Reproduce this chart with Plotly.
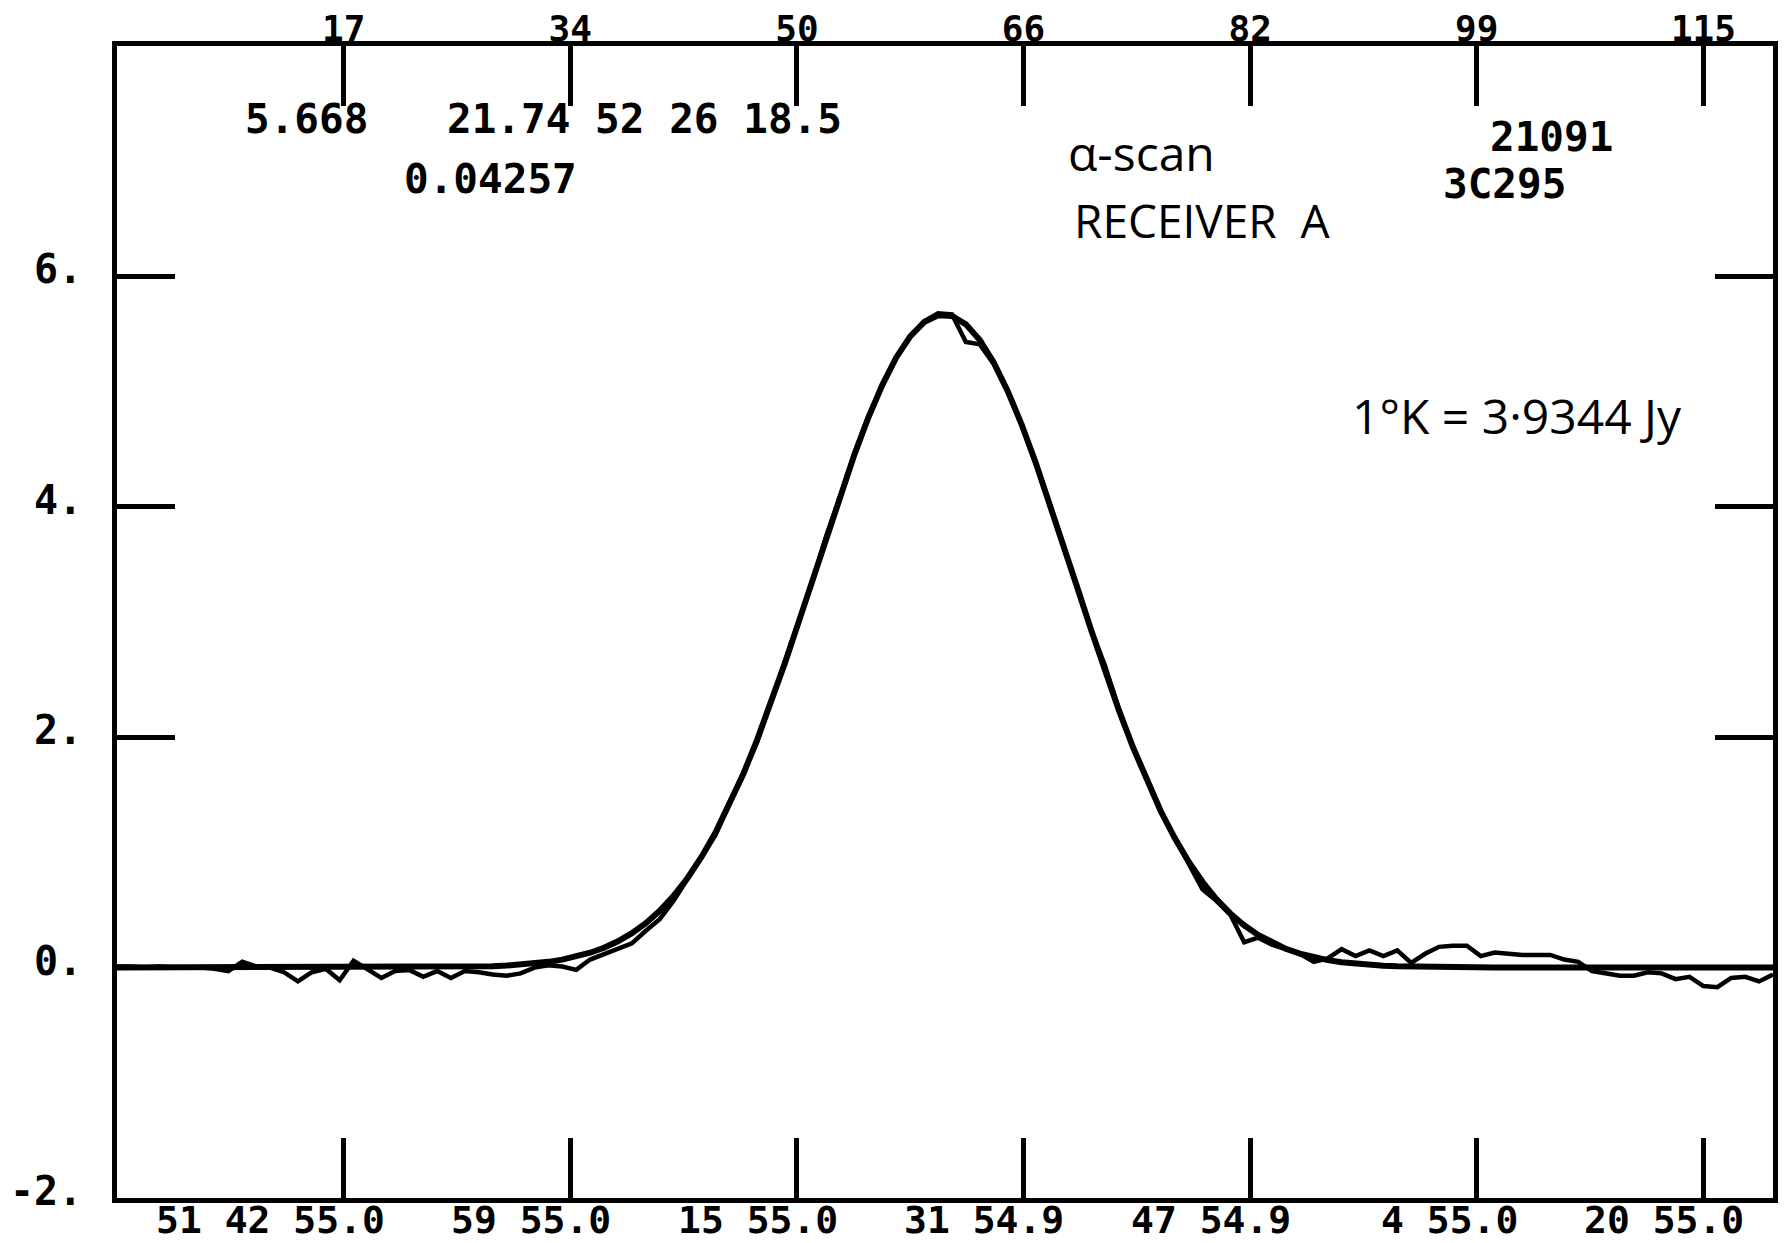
import plotly.graph_objects as go

# ---------------- data ----------------
SAMPLES = list(range(1, 121))

FIT = [0.0] * 22 + [
    0.002, 0.002, 0.004, 0.006, 0.008, 0.012, 0.018, 0.025, 0.036, 0.050,
    0.069, 0.095, 0.129, 0.172, 0.228, 0.299, 0.386, 0.493, 0.623, 0.778,
    0.960, 1.170, 1.410, 1.679, 1.977, 2.300, 2.645, 3.005, 3.375, 3.747,
    4.111, 4.457, 4.777, 5.059, 5.297, 5.480, 5.603, 5.663, 5.656, 5.584,
    5.448, 5.253, 5.006, 4.716, 4.390, 4.039, 3.673, 3.301, 2.932, 2.574,
    2.233, 1.915, 1.623, 1.359, 1.126, 0.921, 0.745, 0.595, 0.470, 0.367,
    0.283, 0.216, 0.163, 0.121, 0.089, 0.065, 0.047, 0.033, 0.023, 0.016,
    0.011, 0.008, 0.005, 0.003, 0.002, 0.001,
] + [0.0] * 22

DATA = [
    0.01, 0.01, 0.00, 0.01, 0.00, 0.00, 0.00, -0.01, -0.03, 0.05,
    0.01, 0.00, -0.04, -0.12, -0.04, -0.01, -0.11, 0.06, -0.02, -0.09,
    -0.03, -0.02, -0.08, -0.03, -0.09, -0.03, -0.04, -0.06, -0.07, -0.05,
    0.00, 0.02, 0.01, -0.02, 0.07, 0.12, 0.17, 0.21, 0.32, 0.42,
    0.58, 0.77, 0.95, 1.15, 1.42, 1.70, 1.96, 2.31, 2.66, 3.00,
    3.36, 3.76, 4.10, 4.47, 4.79, 5.05, 5.30, 5.48, 5.61, 5.68,
    5.67, 5.43, 5.41, 5.24, 5.00, 4.72, 4.38, 4.04, 3.66, 3.31,
    2.93, 2.62, 2.24, 1.91, 1.62, 1.35, 1.13, 0.91, 0.68, 0.58,
    0.46, 0.22, 0.26, 0.20, 0.16, 0.12, 0.05, 0.08, 0.16, 0.10,
    0.15, 0.10, 0.15, 0.04, 0.12, 0.18, 0.19, 0.19, 0.10, 0.13,
    0.12, 0.11, 0.11, 0.11, 0.07, 0.05, -0.03, -0.05, -0.07, -0.07,
    -0.04, -0.05, -0.10, -0.08, -0.16, -0.17, -0.09, -0.08, -0.12, -0.06,
]

TICK_VALS = [17.29, 33.57, 49.86, 66.14, 82.43, 98.71, 115.0]
TOP_LABELS = ["17", "34", "50", "66", "82", "99", "115"]
BOTTOM_LABELS = ["51 42 55.0", "59 55.0", "15 55.0", "31 54.9",
                 "47 54.9", "4 55.0", "20 55.0"]
Y_TICK_VALS = [-2, 0, 2, 4, 6]
Y_TICK_TEXT = ["-2.", "0.", "2.", "4.", "6."]

MONO = "DejaVu Sans Mono"
HAND = "Open Sans"

fig = go.Figure()
fig.add_trace(go.Scatter(x=SAMPLES, y=FIT, mode="lines",
                         line=dict(color="black", width=6), hoverinfo="skip"))
fig.add_trace(go.Scatter(x=SAMPLES, y=DATA, mode="lines",
                         line=dict(color="black", width=4.5), hoverinfo="skip"))

annotations = []
for tv, lab in zip(TICK_VALS, BOTTOM_LABELS):
    annotations.append(dict(x=tv, xref="x", y=(1198 - 1220) / 1152.5, yref="paper", text=lab,
                            xanchor="right", yanchor="middle", xshift=42,
                            showarrow=False, borderpad=0,
                            font=dict(family=MONO, size=38, color="black", weight="bold")))

def txt(px, py, s, fam, size, bold):
    return dict(x=(px - 117) / 1656, y=(1198 - py) / 1152.5, xref="paper", yref="paper",
                text=s, xanchor="left", yanchor="middle", showarrow=False,
                font=dict(family=fam, size=size, color="black",
                          weight="bold" if bold else "normal"))

annotations += [
    txt(243, 119, "5.668", MONO, 41, True),
    txt(445, 119, "21.74 52 26 18.5", MONO, 41, True),
    txt(402, 179, "0.04257", MONO, 41, True),
    txt(1488, 137, "21091", MONO, 41, True),
    txt(1441, 184, "3C295", MONO, 41, True),
    txt(1066, 152, "α-scan", HAND, 48, False),
    txt(1072, 220, "RECEIVER  A", HAND, 46, False),
    txt(1350, 415, "1°K = 3·9344 Jy", HAND, 48, False),
]

fig.update_layout(
    width=1784, height=1243,
    margin=dict(l=117, r=11, t=46, b=45, autoexpand=False),
    paper_bgcolor="white", plot_bgcolor="white",
    showlegend=False,
    annotations=annotations,
    xaxis=dict(range=[1, 120], side="top", tickvals=TICK_VALS, ticktext=TOP_LABELS,
               ticks="inside", ticklen=60, tickwidth=4.5, tickcolor="black",
               showline=True, linewidth=4.5, linecolor="black", mirror="ticks",
               showgrid=False, zeroline=False, ticklabelstandoff=-14, automargin=False,
               tickfont=dict(family=MONO, size=36, color="black", weight="bold")),
    yaxis=dict(range=[-2, 8], tickvals=Y_TICK_VALS, ticktext=Y_TICK_TEXT,
               ticks="inside", ticklen=58, tickwidth=4.5, tickcolor="black",
               showline=True, linewidth=4.5, linecolor="black", mirror="ticks",
               showgrid=False, zeroline=False, ticklabelstandoff=22, automargin=False,
               ticklabelshift=-7,
               tickfont=dict(family=MONO, size=40, color="black", weight="bold")),
)

fig.write_html("out.html")
